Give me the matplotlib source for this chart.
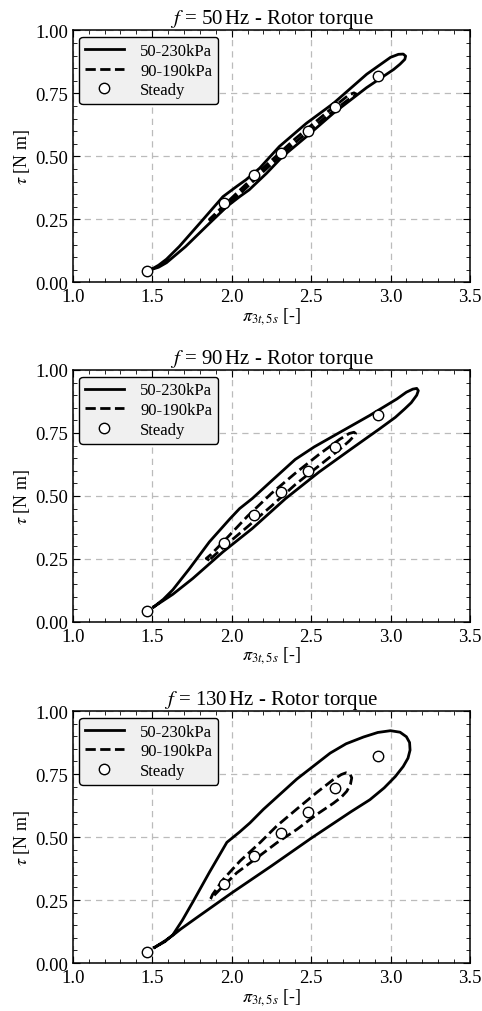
import numpy as np
import matplotlib
matplotlib.use("Agg")
import matplotlib.pyplot as plt
from matplotlib.ticker import MultipleLocator, AutoMinorLocator, FormatStrFormatter

plt.rcParams['font.family'] = 'serif'
plt.rcParams['font.serif'] = ['Liberation Serif', 'DejaVu Serif']
plt.rcParams['mathtext.fontset'] = 'stix'

freqs = [50, 90, 130]

# steady operating points (same in every panel)
steady_x = [1.47, 1.95, 2.14, 2.31, 2.48, 2.65, 2.92]
steady_y = [0.045, 0.315, 0.425, 0.515, 0.60, 0.695, 0.82]

# 50 Hz loops
wide50_x = [1.49, 1.54, 1.59, 1.67, 1.80, 1.945, 2.03, 2.09, 2.176, 2.30, 2.47, 2.64, 2.85, 3.00, 3.05,
            3.08, 3.095, 3.09, 3.06, 3.02, 2.85, 2.64, 2.47, 2.32, 2.22, 2.11, 2.05, 1.97, 1.84, 1.71,
            1.59, 1.54, 1.49]
wide50_y = [0.05, 0.068, 0.092, 0.142, 0.235, 0.34, 0.38, 0.407, 0.453, 0.539, 0.631, 0.71, 0.826, 0.893,
            0.905, 0.906, 0.898, 0.885, 0.866, 0.845, 0.773, 0.671, 0.578, 0.499, 0.433, 0.367, 0.34,
            0.301, 0.222, 0.142, 0.078, 0.06, 0.05]
narrow50_x = [1.87, 1.86, 1.88, 2.0, 2.2, 2.4, 2.6, 2.74, 2.77, 2.785, 2.77, 2.74, 2.6, 2.4, 2.2, 2.0, 1.88,
              1.87]
narrow50_y = [0.244, 0.25, 0.262, 0.335, 0.455, 0.57, 0.675, 0.745, 0.752, 0.747, 0.738, 0.728, 0.66, 0.555,
              0.44, 0.32, 0.25, 0.244]

# 90 Hz loops
wide90_x = [1.51, 1.57, 1.63, 1.735, 1.86, 1.99, 2.05, 2.13, 2.26, 2.40, 2.52, 2.66, 2.87, 3.04, 3.10,
            3.14, 3.165, 3.175, 3.165, 3.13, 3.09, 3.03, 2.93, 2.76, 2.55, 2.34, 2.13, 1.945, 1.756,
            1.63, 1.57, 1.51]
wide90_y = [0.06, 0.09, 0.128, 0.212, 0.318, 0.41, 0.45, 0.49, 0.565, 0.645, 0.695, 0.745, 0.82, 0.885,
            0.912, 0.924, 0.927, 0.918, 0.9, 0.87, 0.846, 0.812, 0.766, 0.69, 0.595, 0.49, 0.371, 0.278,
            0.173, 0.11, 0.085, 0.06]
narrow90_x = [1.86, 1.84, 1.87, 1.95, 2.1, 2.25, 2.4, 2.55, 2.68, 2.74, 2.77, 2.78, 2.77, 2.74, 2.68, 2.55,
              2.4, 2.25, 2.1, 1.95, 1.87, 1.86]
narrow90_y = [0.245, 0.252, 0.268, 0.32, 0.42, 0.51, 0.59, 0.665, 0.725, 0.748, 0.753, 0.748, 0.738, 0.718,
              0.685, 0.62, 0.545, 0.46, 0.378, 0.298, 0.252, 0.245]

# 130 Hz loops
wide130_x = [1.515, 1.58, 1.63, 1.69, 1.76, 1.86, 1.97, 2.05, 2.115, 2.2, 2.41, 2.62, 2.72, 2.83, 2.92,
             3.0, 3.06, 3.10, 3.12, 3.123, 3.11, 3.08, 3.03, 2.96, 2.87, 2.75, 2.5, 2.25, 2.0, 1.78,
             1.68, 1.63, 1.58, 1.515]
wide130_y = [0.062, 0.085, 0.112, 0.17, 0.247, 0.36, 0.479, 0.52, 0.556, 0.61, 0.73, 0.833, 0.87, 0.897,
             0.915, 0.922, 0.916, 0.898, 0.875, 0.845, 0.813, 0.78, 0.74, 0.695, 0.648, 0.6, 0.495,
             0.385, 0.278, 0.18, 0.135, 0.11, 0.088, 0.062]
narrow130_x = [1.868, 1.88, 1.947, 2.053, 2.179, 2.284, 2.41, 2.536, 2.64, 2.69, 2.72, 2.745, 2.756, 2.748,
               2.725, 2.69, 2.64, 2.536, 2.41, 2.284, 2.158, 2.032, 1.926, 1.88, 1.868]
narrow130_y = [0.255, 0.272, 0.332, 0.405, 0.478, 0.544, 0.611, 0.677, 0.728, 0.748, 0.755, 0.75, 0.735,
               0.71, 0.682, 0.658, 0.634, 0.59, 0.53, 0.477, 0.417, 0.358, 0.292, 0.262, 0.255]

wide = [(wide50_x, wide50_y), (wide90_x, wide90_y), (wide130_x, wide130_y)]
narrow = [(narrow50_x, narrow50_y), (narrow90_x, narrow90_y), (narrow130_x, narrow130_y)]

fig = plt.figure(figsize=(4.82, 10.12), dpi=100)
bottoms = [0.720, 0.3844, 0.0474]

for k in range(3):
    ax = fig.add_axes([0.151, bottoms[k], 0.824, 0.249])
    ax.plot(wide[k][0], wide[k][1], 'k-', lw=2, label='50-230kPa', solid_joinstyle='round')
    ax.plot(narrow[k][0], narrow[k][1], 'k--', lw=2, label='90-190kPa')
    ax.plot(steady_x, steady_y, 'o', ms=7.5, mfc='white', mec='k', mew=1, label='Steady')

    ax.set_xlim(1.0, 3.5)
    ax.set_ylim(0.0, 1.0)
    ax.xaxis.set_major_locator(MultipleLocator(0.5))
    ax.yaxis.set_major_locator(MultipleLocator(0.25))
    ax.xaxis.set_minor_locator(AutoMinorLocator())
    ax.yaxis.set_minor_locator(AutoMinorLocator())
    ax.xaxis.set_major_formatter(FormatStrFormatter('%.1f'))
    ax.yaxis.set_major_formatter(FormatStrFormatter('%.2f'))
    ax.tick_params(which='both', direction='in', top=True, right=True, labelsize=13.5)
    ax.tick_params(axis='x', pad=4)
    ax.tick_params(axis='y', pad=3)
    ax.tick_params(which='major', length=5)
    ax.tick_params(which='minor', length=3)
    for s in ax.spines.values():
        s.set_linewidth(1.1)
    ax.grid(True, which='major', ls=(0, (5, 4)), color='#bbbbbb', lw=0.9)
    ax.set_axisbelow(True)

    ax.set_title(r'$f$ = %d$\,$Hz - Rotor torque' % freqs[k], fontsize=15, pad=2)
    ax.set_xlabel(r'$\pi_{3t,5s}$ [-]', fontsize=13, labelpad=0)
    ax.set_ylabel(r'$\tau$ [N m]', fontsize=13, labelpad=3)

    leg = ax.legend(loc='upper left', fontsize=12, frameon=True, fancybox=True,
                    handlelength=2.3, handletextpad=1.0, borderpad=0.35, labelspacing=0.22,
                    borderaxespad=0.4)
    leg.get_frame().set_facecolor('#f0f0f0')
    leg.get_frame().set_edgecolor('black')
    leg.get_frame().set_alpha(1)

fig.savefig('out.png', dpi=100)
